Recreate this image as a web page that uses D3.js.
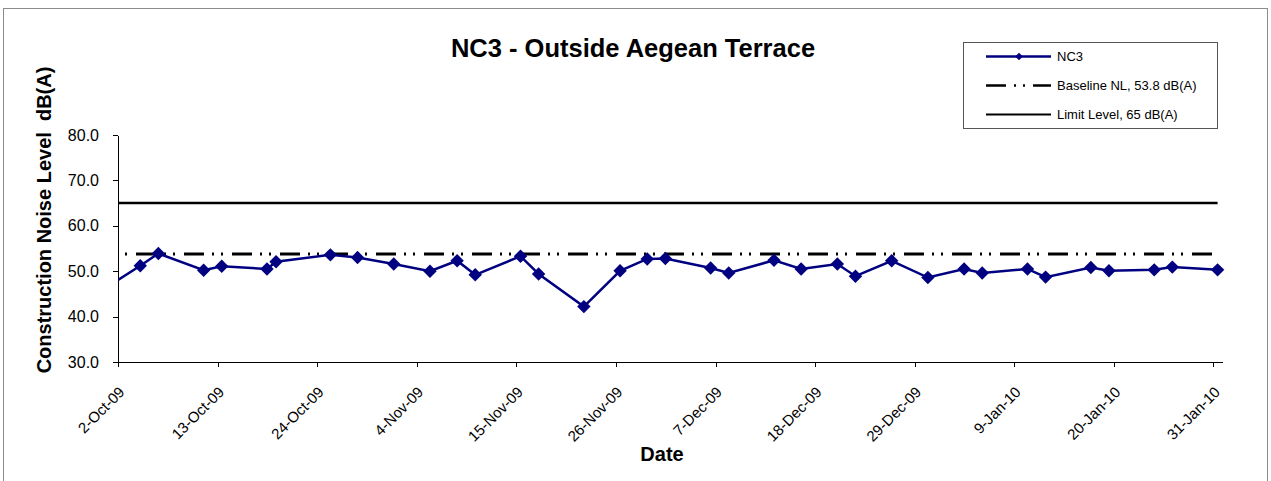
<!DOCTYPE html>
<html lang="en">
<head>
<meta charset="utf-8">
<title>NC3 - Outside Aegean Terrace</title>
<script src="https://cdn.jsdelivr.net/npm/d3@7"></script>
<style>
  body { margin: 0; background: #fff; }
  svg { font-family: "Liberation Sans", Arial, sans-serif; }
  .axis path, .axis line { stroke: #000; shape-rendering: crispEdges; }
  .axis text { fill: #000; }
</style>
</head>
<body>
<script>
// measurement dates (readings taken late morning) and levels, dB(A)
var dates = [
  "2009-09-29T11:00", "2009-10-04T11:00", "2009-10-06T11:00", "2009-10-11T11:00",
  "2009-10-13T11:00", "2009-10-18T11:00", "2009-10-19T11:00", "2009-10-25T11:00",
  "2009-10-28T11:00", "2009-11-01T11:00", "2009-11-05T11:00", "2009-11-08T11:00",
  "2009-11-10T11:00", "2009-11-15T11:00", "2009-11-17T11:00", "2009-11-22T11:00",
  "2009-11-26T11:00", "2009-11-29T11:00", "2009-12-01T11:00", "2009-12-06T11:00",
  "2009-12-08T11:00", "2009-12-13T11:00", "2009-12-16T11:00", "2009-12-20T11:00",
  "2009-12-22T11:00", "2009-12-26T11:00", "2009-12-30T11:00", "2010-01-03T11:00",
  "2010-01-05T11:00", "2010-01-10T11:00", "2010-01-12T11:00", "2010-01-17T11:00",
  "2010-01-19T11:00", "2010-01-24T11:00", "2010-01-26T11:00", "2010-01-31T11:00"
];
var nc3 = [
  44.8, 51.2, 53.9, 50.2,
  51.1, 50.5, 52.1, 53.6,
  53.0, 51.6, 50.0, 52.3,
  49.2, 53.3, 49.4, 42.2,
  50.1, 52.7, 52.8, 50.7,
  49.6, 52.4, 50.5, 51.6,
  48.9, 52.3, 48.6, 50.5,
  49.6, 50.5, 48.7, 50.8,
  50.1, 50.3, 50.9, 50.3
];
var baseline = 53.8;
var limit = 65;
var tickLabels = ["2-Oct-09", "13-Oct-09", "24-Oct-09", "4-Nov-09", "15-Nov-09", "26-Nov-09",
                  "7-Dec-09", "18-Dec-09", "29-Dec-09", "9-Jan-10", "20-Jan-10", "31-Jan-10"];
var yTicks = [30, 40, 50, 60, 70, 80];
var legendLabels = ["NC3", "Baseline NL, 53.8 dB(A)", "Limit Level, 65 dB(A)"];

var w = 1271, h = 481;
var parseIso = d3.utcParse("%Y-%m-%dT%H:%M");
var parseTick = d3.utcParse("%-d-%b-%y");

var data = dates.map(function(d, i) { return { date: parseIso(d), value: nc3[i] }; });
var tickDates = tickLabels.map(function(t) { return parseTick(t); });

var x = d3.scaleUtc()
  .domain([parseTick("2-Oct-09"), parseTick("1-Feb-10")])
  .range([118, 1222.5]);
var y = d3.scaleLinear().domain([30, 80]).range([362, 135]);

var svg = d3.select("body").append("svg").attr("width", w).attr("height", h);

// outer chart frame
svg.append("rect")
  .attr("x", 3.5).attr("y", 8.5).attr("width", 1264).attr("height", 480)
  .attr("fill", "none").attr("stroke", "#8c8c8c").attr("stroke-width", 1);

svg.append("defs").append("clipPath").attr("id", "plot")
  .append("rect").attr("x", 118).attr("y", 100).attr("width", 1130).attr("height", 280);

// title
svg.append("text")
  .attr("x", 633).attr("y", 57)
  .attr("text-anchor", "middle")
  .attr("font-size", "25.5px").attr("font-weight", "bold")
  .text("NC3 - Outside Aegean Terrace");

// axes
var xAxis = d3.axisBottom(x).tickValues(tickDates).tickSize(5).tickSizeOuter(0)
  .tickFormat(function(d, i) { return tickLabels[i]; });
var yAxis = d3.axisLeft(y).tickValues(yTicks).tickSize(5).tickSizeOuter(0)
  .tickFormat(d3.format(".1f"));

var gx = svg.append("g").attr("class", "axis")
  .attr("transform", "translate(0,362)").call(xAxis);
gx.selectAll("text")
  .attr("font-size", "15px")
  .attr("text-anchor", "end")
  .attr("dy", null)
  .attr("y", 0)
  .attr("transform", "translate(7,31) rotate(-45)");

var gy = svg.append("g").attr("class", "axis")
  .attr("transform", "translate(118,0)").call(yAxis);
gy.selectAll("text").attr("font-size", "16px").attr("x", -19);

// axis titles
svg.append("text")
  .attr("transform", "translate(51,220) rotate(-90)")
  .attr("text-anchor", "middle")
  .attr("font-size", "20px").attr("font-weight", "bold")
  .style("white-space", "pre")
  .text("Construction Noise Level  dB(A)");

svg.append("text")
  .attr("x", 662).attr("y", 461)
  .attr("text-anchor", "middle")
  .attr("font-size", "20px").attr("font-weight", "bold")
  .text("Date");

var xEnd = x(parseIso("2010-01-31T11:00"));

// limit and baseline lines
svg.append("line")
  .attr("x1", 118).attr("x2", xEnd)
  .attr("y1", y(limit)).attr("y2", y(limit))
  .attr("stroke", "#000").attr("stroke-width", 2.5);

svg.append("line")
  .attr("x1", 118).attr("x2", xEnd)
  .attr("y1", y(baseline)).attr("y2", y(baseline))
  .attr("stroke", "#000").attr("stroke-width", 3)
  .attr("stroke-dasharray", "20,8,2,7,2,9")
  .attr("stroke-dashoffset", 30);

// NC3 series
var line = d3.line()
  .x(function(d) { return x(d.date); })
  .y(function(d) { return y(d.value); });

var series = svg.append("g").attr("clip-path", "url(#plot)");
series.append("path")
  .datum(data)
  .attr("d", line)
  .attr("fill", "none")
  .attr("stroke", "#000080")
  .attr("stroke-width", 2.5);

var diamond = d3.symbol().type(d3.symbolSquare).size(90);
series.selectAll(".pt")
  .data(data)
  .enter()
  .append("path")
  .attr("class", "pt")
  .attr("d", diamond)
  .attr("transform", function(d) {
    return "translate(" + x(d.date) + "," + y(d.value) + ") rotate(45)";
  })
  .attr("fill", "#000080");

// legend
var lg = svg.append("g");
lg.append("rect")
  .attr("x", 963.5).attr("y", 42.5).attr("width", 254).attr("height", 86)
  .attr("fill", "#fff").attr("stroke", "#555").attr("stroke-width", 1);

var rows = [56.5, 85.5, 114.5];
lg.append("line").attr("x1", 986).attr("x2", 1051).attr("y1", rows[0]).attr("y2", rows[0])
  .attr("stroke", "#000080").attr("stroke-width", 2.5);
lg.append("path").attr("d", d3.symbol().type(d3.symbolSquare).size(30))
  .attr("transform", "translate(1019," + rows[0] + ") rotate(45)")
  .attr("fill", "#000080");
lg.append("line").attr("x1", 986).attr("x2", 1051).attr("y1", rows[1]).attr("y2", rows[1])
  .attr("stroke", "#000").attr("stroke-width", 2.5)
  .attr("stroke-dasharray", "20,8,2,7,2,8,20");
lg.append("line").attr("x1", 986).attr("x2", 1051).attr("y1", rows[2]).attr("y2", rows[2])
  .attr("stroke", "#000").attr("stroke-width", 2);

lg.selectAll(".lt")
  .data(legendLabels)
  .enter()
  .append("text")
  .attr("class", "lt")
  .attr("x", 1057)
  .attr("y", function(d, i) { return rows[i] + 4.5; })
  .attr("font-size", "13px")
  .text(function(d) { return d; });
</script>
</body>
</html>
